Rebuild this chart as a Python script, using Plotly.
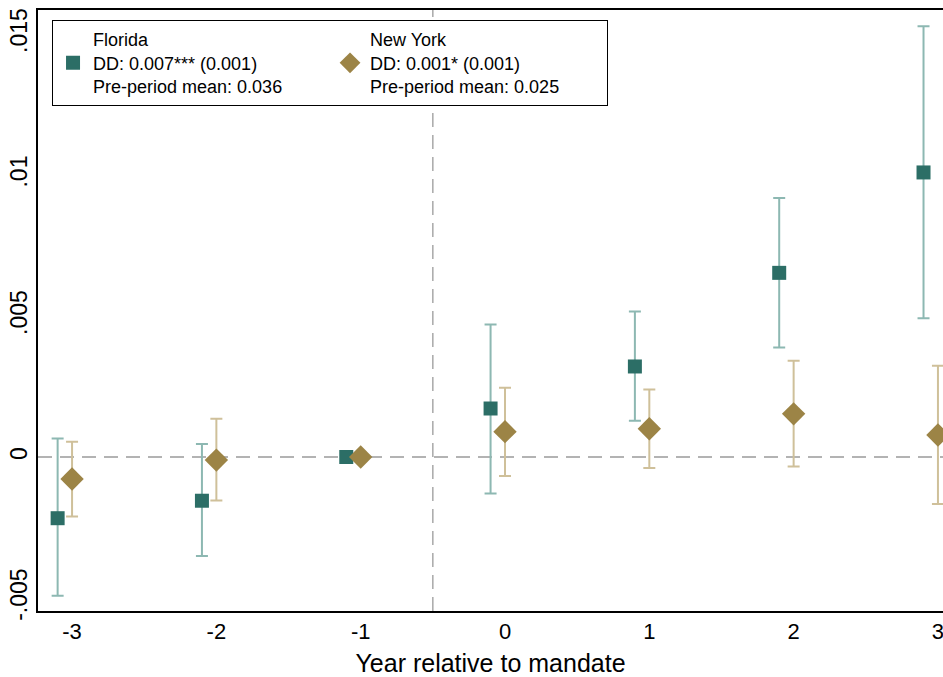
import plotly.graph_objects as go

years = [-3, -2, -1, 0, 1, 2, 3]
x_tick_labels = ["-3", "-2", "-1", "0", "1", "2", "3"]

fl_coef = [-0.00217, -0.00155, 0.0, 0.00172, 0.00321, 0.00653, 0.01009]
fl_lo = [-0.00492, -0.00351, 0.0, -0.00129, 0.00129, 0.00388, 0.00492]
fl_hi = [0.00066, 0.00046, 0.0, 0.00470, 0.00516, 0.00918, 0.01527]

ny_coef = [-0.00078, -0.00011, 0.0, 0.00090, 0.00100, 0.00153, 0.00078]
ny_lo = [-0.00211, -0.00154, 0.0, -0.00067, -0.00039, -0.00034, -0.00167]
ny_hi = [0.00054, 0.00136, 0.0, 0.00246, 0.00239, 0.00341, 0.00324]

y_tick_vals = [-0.005, 0, 0.005, 0.01, 0.015]
y_tick_labels = ["-.005", "0", ".005", ".01", ".015"]

fl_name = "Florida<br>DD: 0.007*** (0.001)<br>Pre-period mean: 0.036"
ny_name = "New York<br>DD: 0.001* (0.001)<br>Pre-period mean: 0.025"

FL_DARK = "rgb(44,110,102)"
FL_LIGHT = "rgb(141,184,178)"
NY_DARK = "rgb(156,132,70)"
NY_LIGHT = "rgb(207,192,154)"

fl_x = [y - 0.1 for y in years]

fig = go.Figure()
fig.add_trace(go.Scatter(
    x=fl_x, y=fl_coef, mode="markers", name=fl_name,
    marker=dict(symbol="square", size=14, color=FL_DARK),
    error_y=dict(type="data", symmetric=False,
                 array=[h - v for v, h in zip(fl_coef, fl_hi)],
                 arrayminus=[v - l for v, l in zip(fl_coef, fl_lo)],
                 color=FL_LIGHT, thickness=2, width=6),
))
fig.add_trace(go.Scatter(
    x=years, y=ny_coef, mode="markers", name=ny_name,
    marker=dict(symbol="diamond", size=18, color=NY_DARK),
    error_y=dict(type="data", symmetric=False,
                 array=[h - v for v, h in zip(ny_coef, ny_hi)],
                 arrayminus=[v - l for v, l in zip(ny_coef, ny_lo)],
                 color=NY_LIGHT, thickness=2, width=6),
))

fig.add_hline(y=0, line=dict(color="rgb(155,155,155)", width=1.3, dash="14px,8px"), layer="below")
fig.add_vline(x=-0.5, line=dict(color="rgb(155,155,155)", width=1.3, dash="14px,8px"), layer="below")

fig.update_layout(
    width=943, height=677,
    margin=dict(l=38, r=0, t=10, b=66),
    paper_bgcolor="white", plot_bgcolor="white",
    font=dict(family="Liberation Sans, Arial, sans-serif", color="black"),
    showlegend=True,
    legend=dict(
        orientation="h", x=0.0155, y=0.983, xanchor="left", yanchor="top",
        bordercolor="black", borderwidth=1, bgcolor="white",
        font=dict(size=18), entrywidth=232, entrywidthmode="pixels",
        itemsizing="trace", tracegroupgap=0,
    ),
    xaxis=dict(
        range=[-3.236, 3.035], tickvals=years, ticktext=x_tick_labels,
        showgrid=False, zeroline=False, showline=True, linecolor="black", linewidth=2,
        mirror=True, ticks="", tickfont=dict(size=22), automargin=False,
        ticklabeloverflow="allow",
        title=dict(text="Year relative to mandate", font=dict(size=25), standoff=14),
    ),
    yaxis=dict(
        range=[-0.00546, 0.01585], tickvals=y_tick_vals, ticktext=y_tick_labels,
        showgrid=False, zeroline=False, showline=True, linecolor="black", linewidth=2,
        ticks="", tickangle=-90, tickfont=dict(size=23), automargin=False,
        ticklabeloverflow="allow",
    ),
)

fig.write_html("out.html", config={"displayModeBar": False},
               post_script="document.body.style.margin='0';")
